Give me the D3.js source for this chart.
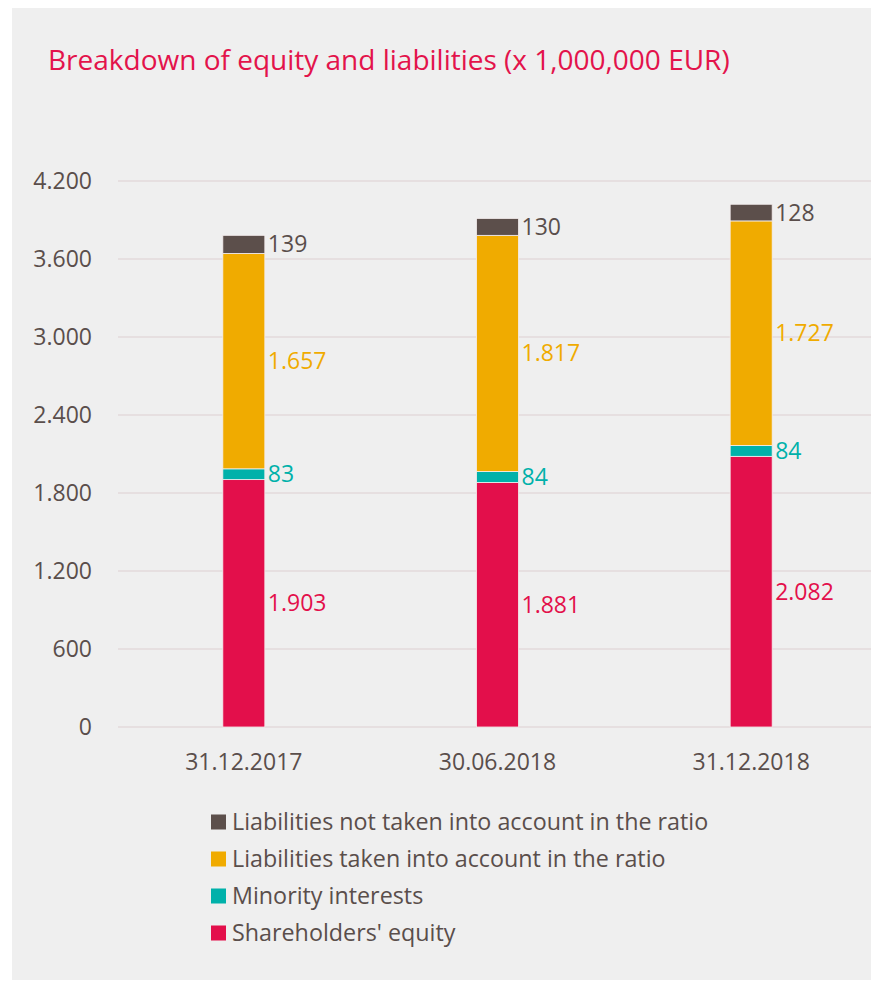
<!DOCTYPE html>
<html>
<head>
<meta charset="utf-8">
<script src="https://cdn.jsdelivr.net/npm/d3@7"></script>
<style>
  html, body { margin: 0; padding: 0; background: #ffffff; }
  text { font-family: "Open Sans", "Noto Sans", sans-serif; }
</style>
</head>
<body>
<div id="chart"></div>
<script>
// data
const categories = ["31.12.2017", "30.06.2018", "31.12.2018"];
const seriesNames = [
  "Shareholders' equity",
  "Minority interests",
  "Liabilities taken into account in the ratio",
  "Liabilities not taken into account in the ratio"
];
const equity = [1903, 1881, 2082];
const minority = [83, 84, 84];
const liabRatio = [1657, 1817, 1727];
const liabOther = [139, 130, 128];
const yTicks = [0, 600, 1200, 1800, 2400, 3000, 3600, 4200];

const colors = ["#e30f4b", "#00b1aa", "#f0ab00", "#5c4f4b"];
const textGrey = "#5a4e4b";

const W = 871, H = 981;
const PLOT = { left: 117, right: 878, top: 181, bottom: 727 };

const svg = d3.select("#chart").append("svg")
  .attr("width", W)
  .attr("height", H);

// panel
svg.append("rect")
  .attr("x", 12).attr("y", 8)
  .attr("width", W - 12).attr("height", 972)
  .attr("fill", "#efefef");

svg.append("text")
  .attr("x", 48).attr("y", 70)
  .attr("fill", "#e3134b")
  .attr("font-size", 28)
  .text("Breakdown of equity and liabilities (x 1,000,000 EUR)");

const y = d3.scaleLinear().domain([0, 4200]).range([PLOT.bottom, PLOT.top]);
const x = d3.scaleBand().domain(categories).range([PLOT.left, PLOT.right]).padding(0);
const barW = 42;

// gridlines
svg.append("g")
  .selectAll("line")
  .data(yTicks)
  .join("line")
  .attr("x1", 118).attr("x2", W)
  .attr("y1", d => y(d)).attr("y2", d => y(d))
  .attr("stroke", "#e6dfe0")
  .attr("stroke-width", 2);

// y axis labels
const fmt = d => d3.format(",")(d).replace(/,/g, ".");
svg.append("g")
  .selectAll("text")
  .data(yTicks)
  .join("text")
  .attr("x", 92)
  .attr("y", d => y(d))
  .attr("dy", "0.35em")
  .attr("text-anchor", "end")
  .attr("font-size", 23)
  .attr("fill", textGrey)
  .text(fmt);

// x labels
svg.append("g")
  .selectAll("text")
  .data(categories)
  .join("text")
  .attr("x", d => x(d) + x.bandwidth() / 2)
  .attr("y", 770)
  .attr("text-anchor", "middle")
  .attr("font-size", 23)
  .attr("fill", textGrey)
  .text(d => d);

// stack
const rows = categories.map((c, i) => ({
  cat: c, s0: equity[i], s1: minority[i], s2: liabRatio[i], s3: liabOther[i]
}));
const stack = d3.stack().keys(["s0", "s1", "s2", "s3"])(rows);

const layers = svg.append("g")
  .selectAll("g")
  .data(stack)
  .join("g")
  .attr("fill", (d, i) => colors[i]);

layers.selectAll("rect")
  .data(d => d)
  .join("rect")
  .attr("x", d => x(d.data.cat) + x.bandwidth() / 2 - barW / 2)
  .attr("width", barW)
  .attr("y", d => y(d[1]))
  .attr("height", d => y(d[0]) - y(d[1]))
  .attr("stroke", "#f4eeee")
  .attr("stroke-width", 0.8);

// value labels to the right of each segment
layers.selectAll("text")
  .data(d => d)
  .join("text")
  .attr("x", d => x(d.data.cat) + x.bandwidth() / 2 + barW / 2 + 3)
  .attr("y", d => y((d[0] + d[1]) / 2))
  .attr("dy", "0.35em")
  .attr("font-size", 23)
  .attr("fill", function () {
    const i = stack.indexOf(d3.select(this.parentNode).datum());
    return i === 3 ? textGrey : colors[i];
  })
  .text(d => fmt(d[1] - d[0]));

// legend, top to bottom in reverse series order
const legendOrder = [3, 2, 1, 0];
const leg = svg.append("g")
  .selectAll("g")
  .data(legendOrder)
  .join("g")
  .attr("transform", (d, i) => `translate(211, ${822 + i * 37})`);

leg.append("rect")
  .attr("x", 0).attr("y", -7.5)
  .attr("width", 15).attr("height", 15)
  .attr("fill", d => colors[d]);

leg.append("text")
  .attr("x", 21)
  .attr("y", 0)
  .attr("dy", "0.35em")
  .attr("font-size", 23.3)
  .attr("fill", textGrey)
  .text(d => seriesNames[d]);
</script>
</body>
</html>
